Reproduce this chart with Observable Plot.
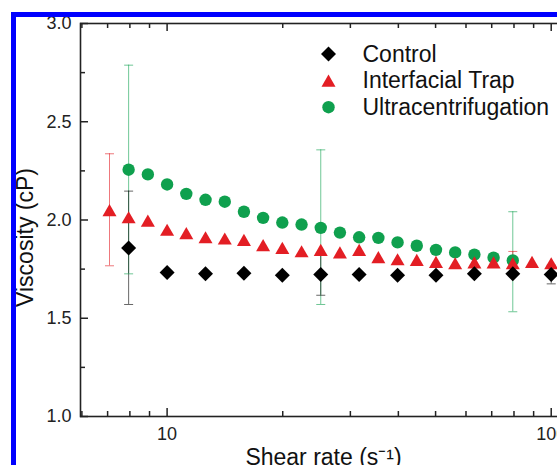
<!DOCTYPE html>
<html>
<head>
<meta charset="utf-8">
<script src="https://cdn.jsdelivr.net/npm/d3@7"></script>
<script src="https://cdn.jsdelivr.net/npm/@observablehq/plot@0.6"></script>
<style>
html, body { margin: 0; padding: 0; background: #fff; overflow: hidden; width: 557px; height: 465px; }
#frame { position: absolute; left: 11px; top: 12px; width: 620px; height: 520px; border: 5px solid #0000ff; overflow: hidden; background: #fff; }
#chart { position: absolute; left: 0; top: 0; }
</style>
</head>
<body>
<div id="frame"><div id="chart"></div></div>
<script>
// ---- data ----
const seriesNames = ["Control", "Interfacial Trap", "Ultracentrifugation"];
const seriesColors = ["#000000", "#e31e24", "#0fa04e"];

const controlRate = [7.94, 10.0, 12.59, 15.85, 19.95, 25.12, 31.62, 39.81, 50.12, 63.10, 79.43, 100.0];
const controlVisc = [1.858, 1.733, 1.726, 1.729, 1.719, 1.723, 1.723, 1.719, 1.719, 1.726, 1.726, 1.723];

const trapRate = [7.08, 7.94, 8.91, 10.0, 11.22, 12.59, 14.13, 15.85, 17.78, 19.95, 22.39, 25.12, 28.18, 31.62, 35.48, 39.81, 44.67, 50.12, 56.23, 63.10, 70.79, 79.43, 89.13, 100.0];
const trapVisc = [2.05, 2.014, 1.997, 1.950, 1.933, 1.912, 1.906, 1.899, 1.872, 1.858, 1.841, 1.848, 1.835, 1.848, 1.811, 1.800, 1.797, 1.787, 1.780, 1.784, 1.784, 1.780, 1.787, 1.780];

const ultraRate = [7.94, 8.91, 10.0, 11.22, 12.59, 14.13, 15.85, 17.78, 19.95, 22.39, 25.12, 28.18, 31.62, 35.48, 39.81, 44.67, 50.12, 56.23, 63.10, 70.79, 79.43];
const ultraVisc = [2.256, 2.232, 2.181, 2.133, 2.103, 2.093, 2.042, 2.011, 1.987, 1.977, 1.960, 1.936, 1.912, 1.909, 1.886, 1.869, 1.848, 1.835, 1.824, 1.808, 1.794];

const errSeries = ["Interfacial Trap", "Ultracentrifugation", "Control", "Ultracentrifugation", "Control", "Ultracentrifugation", "Interfacial Trap", "Control"];
const errRate = [7.08, 7.94, 7.94, 25.12, 25.12, 79.43, 79.43, 100.0];
const errLow  = [1.767, 1.726, 1.570, 1.570, 1.617, 1.533, 1.720, 1.675];
const errHigh = [2.337, 2.788, 2.147, 2.357, 1.829, 2.042, 1.840, 1.770];

const xMajorTicks = [10, 100];
const xMinorTicks = [6, 7, 8, 9, 20, 30, 40, 50, 60, 70, 80, 90];
const yMajorTicks = [1.0, 1.5, 2.0, 2.5, 3.0];
const yMinorTicks = [1.25, 1.75, 2.25, 2.75];

const xTitle = "Shear rate (s\u207B\u00B9)";
const yTitle = "Viscosity (cP)";

// ---- tables ----
const control = controlRate.map((x, i) => ({x, y: controlVisc[i]}));
const trap = trapRate.map((x, i) => ({x, y: trapVisc[i]}));
const ultra = ultraRate.map((x, i) => ({x, y: ultraVisc[i]}));
const errors = errRate.map((x, i) => ({x, lo: errLow[i], hi: errHigh[i], series: errSeries[i]}));

const W = 620, H = 470, ML = 64, MT = 6, MR = 70, MB = 71;
const PW = W - ML - MR, PH = H - MT - MB;
const majorLen = 8, minorLen = 5;

const capSymbol = {
  draw(context, size) {
    const w = Math.sqrt(size / Math.PI);
    context.moveTo(-w, 0);
    context.lineTo(w, 0);
  }
};

const legendSymbols = ["diamond2", "triangle", "circle"];
const legendR = [6.75, 5.2, 6.2];
const legendDy = [0, 2, 0];

const legendMarks = seriesNames.flatMap((name, i) => [
  Plot.dot([name], {frameAnchor: "top-left", dx: 248, dy: 30.5 + i * 26.6 + legendDy[i],
    symbol: legendSymbols[i], r: legendR[i], fill: seriesColors[i], stroke: "none"}),
  Plot.text([name], {frameAnchor: "top-left", dx: 282, dy: 31 + i * 26.6,
    textAnchor: "start", lineAnchor: "middle", fontSize: 23, fill: "#111"})
]);

const tickStyle = {stroke: "#222", strokeWidth: 1.5};

const chart = Plot.plot({
  width: W,
  height: H,
  marginLeft: ML,
  marginTop: MT,
  marginRight: MR,
  marginBottom: MB,
  x: {type: "log", domain: [5.95, 109.6], label: null},
  y: {domain: [1, 3], label: null},
  color: {domain: seriesNames, range: seriesColors},
  style: {fontFamily: "'Liberation Sans', Arial, sans-serif", fontSize: "18px", color: "#222", background: "transparent"},
  marks: [
    // inward ticks on bottom, top and left
    Plot.tickX(xMajorTicks, {x: d => d, insetTop: PH - majorLen, ...tickStyle}),
    Plot.tickX(xMinorTicks, {x: d => d, insetTop: PH - minorLen, ...tickStyle}),
    Plot.tickX(xMajorTicks, {x: d => d, insetBottom: PH - majorLen, ...tickStyle}),
    Plot.tickX(xMinorTicks, {x: d => d, insetBottom: PH - minorLen, ...tickStyle}),
    Plot.tickY(yMajorTicks, {y: d => d, insetRight: PW - majorLen, ...tickStyle}),
    Plot.tickY(yMinorTicks, {y: d => d, insetRight: PW - minorLen, ...tickStyle}),
    // tick labels
    Plot.axisX(xMajorTicks, {anchor: "bottom", tickSize: 0, tickPadding: 11, tickFormat: d => String(d), label: null}),
    Plot.axisY(yMajorTicks, {anchor: "left", tickSize: 0, tickPadding: 9, tickFormat: d3.format(".1f"), label: null}),
    Plot.frame({stroke: "#222", strokeWidth: 1.6}),
    // error bars
    Plot.ruleX(errors, {x: "x", y1: "lo", y2: "hi", stroke: "series", strokeWidth: 1, strokeOpacity: 0.6}),
    Plot.dot(errors, {x: "x", y: "lo", symbol: capSymbol, r: 4.5, fill: "none", stroke: "series", strokeWidth: 1, strokeOpacity: 0.6}),
    Plot.dot(errors, {x: "x", y: "hi", symbol: capSymbol, r: 4.5, fill: "none", stroke: "series", strokeWidth: 1, strokeOpacity: 0.6}),
    // series
    Plot.dot(ultra, {x: "x", y: "y", symbol: "circle", r: 6.2, fill: seriesColors[2], stroke: "none"}),
    Plot.dot(trap, {x: "x", y: "y", symbol: "triangle", r: 5.2, dy: 2, fill: seriesColors[1], stroke: "none"}),
    Plot.dot(control, {x: "x", y: "y", symbol: "diamond2", r: 6.75, fill: seriesColors[0], stroke: "none"}),
    ...legendMarks,
    Plot.text([xTitle], {frameAnchor: "bottom", dy: 48, lineAnchor: "bottom", fontSize: 23, fill: "#111"}),
    Plot.text([yTitle], {frameAnchor: "left", dx: -48, dy: 17.5, rotate: -90, lineAnchor: "bottom", textAnchor: "middle", fontSize: 23, fill: "#111"})
  ]
});
document.getElementById("chart").appendChild(chart);
</script>
</body>
</html>
